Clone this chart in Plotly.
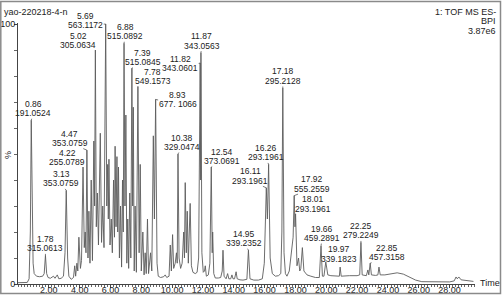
import plotly.graph_objects as go

# ---------------- data ----------------
TIME = [0.00, 0.60, 0.72, 0.80, 0.86, 0.92, 0.98, 1.05, 1.20, 1.40, 1.60, 1.70, 1.78, 1.86, 1.95,
        2.10, 2.30, 2.40, 2.55, 2.65, 2.80, 2.95, 3.05, 3.13, 3.22, 3.30, 3.45, 3.60, 3.68, 3.74,
        3.82, 3.88, 3.95, 4.05, 4.12, 4.22, 4.30, 4.36, 4.41, 4.47, 4.54, 4.60, 4.67, 4.75, 4.83,
        4.92, 4.97, 5.02, 5.08, 5.15, 5.22, 5.34, 5.42, 5.50, 5.58, 5.69, 5.76, 5.82, 5.86, 5.90,
        5.97, 6.05, 6.12, 6.20, 6.26, 6.30, 6.36, 6.42, 6.47, 6.52, 6.58, 6.65, 6.72, 6.78, 6.83,
        6.88, 6.94, 7.00, 7.06, 7.12, 7.18, 7.25, 7.32, 7.39, 7.44, 7.48, 7.54, 7.60, 7.68, 7.78,
        7.86, 7.93, 8.00, 8.10, 8.18, 8.25, 8.32, 8.40, 8.47, 8.60, 8.68, 8.78, 8.85, 8.93, 9.02,
        9.10, 9.25, 9.45, 9.55, 9.65, 9.80, 9.88, 9.95, 10.03, 10.10, 10.20, 10.28, 10.33, 10.38,
        10.45, 10.55, 10.65, 10.75, 10.80, 10.85, 10.92, 10.98, 11.05, 11.17, 11.25, 11.35, 11.50,
        11.62, 11.72, 11.82, 11.85, 11.87, 11.93, 12.02, 12.10, 12.15, 12.22, 12.35, 12.45, 12.54,
        12.60, 12.63, 12.70, 12.80, 13.00, 13.15, 13.25, 13.30, 13.37, 13.50, 13.60, 13.68, 13.80,
        13.88, 13.95, 14.05, 14.15, 14.22, 14.40, 14.60, 14.85, 14.95, 15.05, 15.30, 15.60, 15.85,
        15.98, 16.11, 16.18, 16.26, 16.36, 16.50, 16.70, 16.90, 17.05, 17.12, 17.18, 17.26, 17.35,
        17.45, 17.60, 17.75, 17.85, 17.92, 17.97, 18.01, 18.10, 18.20, 18.28, 18.35, 18.45, 18.55,
        18.75, 19.00, 19.30, 19.55, 19.66, 19.75, 19.85, 19.97, 20.10, 20.30, 20.60, 20.85, 20.90,
        20.97, 21.50, 22.00, 22.17, 22.25, 22.33, 22.60, 22.70, 22.76, 22.85, 22.93, 23.20, 23.35,
        23.42, 23.50, 23.80, 24.20, 24.60, 25.00, 25.40, 25.80, 26.20, 27.00, 28.00, 28.30, 28.42,
        28.50, 28.60, 28.75, 29.10, 29.55]
INTENSITY = [0.5, 0.6, 2.0, 20, 63, 25, 8, 4, 3, 2.8, 3.0, 4, 11, 4, 2.5,
             2.2, 3.0, 2.2, 3.5, 2.0, 2.2, 3.0, 12, 36, 10, 3, 1.8, 2.5, 7, 3,
             8, 5, 18, 6, 9, 45, 14, 20, 12, 51.5, 10, 28, 8, 40, 9,
             55, 30, 90, 22, 35, 15, 58, 16, 30, 14, 100, 30, 46, 25, 48,
             15, 25, 12, 40, 18, 53, 22, 49, 20, 45, 10, 30, 6.5, 40, 20,
             92.6, 30, 65, 8, 25, 6, 35, 10, 83, 30, 68, 5, 30, 4.5, 76,
             12, 46, 5, 20, 3.5, 12, 4, 25, 4, 12, 5, 57, 25, 71, 8,
             3, 2.5, 2.8, 3.5, 2.5, 3, 15, 5, 19, 6, 8, 12, 8, 50,
             10, 6, 8, 20, 10, 39, 12, 28, 8, 31, 7, 4.5, 4,
             4.5, 10, 85, 40, 89, 12, 4.5, 5, 7, 3, 3.5, 8, 45,
             12, 20, 4, 2.3, 2.3, 2.5, 5, 13, 3, 2, 4, 2, 2,
             3.5, 2, 2, 4.7, 2, 1.6, 1.5, 1.8, 13, 2, 1.5, 1.5, 2,
             8, 37, 25, 46, 10, 4, 3, 3.2, 4, 20, 75.4, 12, 4,
             3, 5, 12, 18, 34, 22, 27, 7, 10, 5, 6, 14, 5,
             3.5, 3, 2.5, 2.5, 14.6, 3, 3, 8.5, 3.5, 3.2, 3, 3, 6.5,
             3, 3.2, 3.2, 3.5, 16, 3.5, 3.2, 5.4, 3.5, 8, 3.5, 3.3, 3.5,
             6.5, 3.5, 3.5, 4.0, 4.3, 3.8, 2.8, 1.5, 0.9, 0.8, 0.8, 1.2, 2.7,
             2.0, 2.7, 1.6, 1.3, 1.0]

LABEL_RT = [0.86, 1.78, 3.13, 4.22, 4.47, 5.02, 5.69, 6.88, 7.39, 7.78, 8.93, 10.38,
            11.82, 11.87, 12.54, 14.95, 16.11, 16.26, 17.18, 17.92, 18.01, 19.66, 19.97,
            22.25, 22.85]
LABEL_MZ = ["191.0524", "315.0613", "353.0759", "255.0789", "353.0759", "305.0634",
            "563.1172", "515.0892", "515.0845", "549.1573", "677. 1066", "329.0474",
            "343.0601", "343.0563", "373.0691", "339.2352", "293.1961", "293.1961",
            "295.2128", "555.2559", "293.1961", "459.2891", "339.1823", "279.2249",
            "457.3158"]

X_TICKS = [2, 4, 6, 8, 10, 12, 14, 16, 18, 20, 22, 24, 26, 28]
X_TICK_TEXT = ["2.00", "4.00", "6.00", "8.00", "10.00", "12.00", "14.00", "16.00",
               "18.00", "20.00", "22.00", "24.00", "26.00", "28.00"]
Y_TICKS = [0, 100]
Y_TICK_TEXT = ["0", "100"]

TITLE = "yao-220218-4-n"
INFO_LINES = ["1: TOF MS ES-", "BPI", "3.87e6"]

# ---------------- style / layout ----------------
W, H = 503, 295
L, R, T, B = 18, 28, 23, 11
PW, PH = W - L - R, H - T - B
FONT = "Liberation Sans, Arial, sans-serif"
TXT = "#222222"
LBL = 8.5

# pixel offsets of each label (m/z line centre) from its peak apex
LABEL_OFFSETS = [(2, -7), (0, -7), (-5, -7), (-16, -5), (-17, -7), (-17, -5),
                 (-20, 1), (1, -7), (11, -6), (15, -5), (22, 5), (4, -7),
                 (-20, 5), (1, -7), (11, -6), (-4, -7), (-16, -7), (-3, -7),
                 (0, -7), (18, -7), (17, -5), (1, -8), (13, -3), (0, -7), (17, -6)]


def px_x(p):
    return (p - L) / PW


def px_y(p):
    return (H - B - p) / PH


def apex(t):
    i = min(range(len(TIME)), key=lambda k: abs(TIME[k] - t))
    return INTENSITY[i]


fig = go.Figure()
fig.add_trace(go.Scatter(x=TIME, y=INTENSITY, mode="lines",
                         line=dict(color="#5c5c5c", width=0.9),
                         hoverinfo="skip", showlegend=False))

for rt, mz, (ax, ay) in zip(LABEL_RT, LABEL_MZ, LABEL_OFFSETS):
    h = apex(rt)
    fig.add_annotation(x=rt, y=h, text=mz, showarrow=True, arrowhead=0,
                       arrowwidth=0.7, arrowcolor="#444444", ax=ax, ay=ay,
                       standoff=0, xanchor="center", yanchor="middle",
                       borderpad=0, font=dict(family=FONT, size=LBL, color=TXT))
    fig.add_annotation(x=rt, y=h, text=f"{rt:.2f}", showarrow=False,
                       xshift=ax, yshift=-ay + 9.5, xanchor="center", yanchor="middle",
                       borderpad=0, font=dict(family=FONT, size=LBL, color=TXT))

# header texts
fig.add_annotation(xref="paper", yref="paper", x=px_x(2), y=px_y(12), text=TITLE,
                   showarrow=False, xanchor="left", yanchor="middle",
                   font=dict(family=FONT, size=9, color=TXT))
for i, line in enumerate(INFO_LINES):
    fig.add_annotation(xref="paper", yref="paper", x=px_x(498), y=px_y(12 + 9.5 * i),
                       text=line, showarrow=False, xanchor="right", yanchor="middle",
                       font=dict(family=FONT, size=9, color=TXT))
fig.add_annotation(xref="paper", yref="paper", x=px_x(478), y=px_y(283), text="Time",
                   showarrow=False, xanchor="left", yanchor="middle",
                   font=dict(family=FONT, size=9, color=TXT))
fig.add_annotation(xref="paper", yref="paper", x=px_x(8), y=px_y(155), text="%",
                   showarrow=False, textangle=-90, xanchor="center", yanchor="middle",
                   font=dict(family=FONT, size=9, color=TXT))

# outer frame
fig.add_shape(type="rect", xref="paper", yref="paper",
              x0=px_x(0.8), x1=px_x(500.5), y0=px_y(293.5), y1=px_y(1.5),
              line=dict(color="#8a8a8a", width=1.5), fillcolor="rgba(0,0,0,0)")

fig.update_layout(
    width=W, height=H, margin=dict(l=L, r=R, t=T, b=B, autoexpand=False),
    paper_bgcolor="white", plot_bgcolor="white",
    font=dict(family=FONT, size=9, color=TXT),
    xaxis=dict(range=[0, 29.65], showgrid=False, zeroline=False, showline=True,
               linecolor="#444444", linewidth=1, ticks="outside", ticklen=3,
               tickcolor="#444444", tickvals=X_TICKS, ticktext=X_TICK_TEXT,
               tickfont=dict(family=FONT, size=9, color=TXT), automargin=False,
               ticklabelstandoff=-6,
               minor=dict(dtick=0.2, tick0=0, ticks="outside", ticklen=2,
                          tickcolor="#666666", showgrid=False)),
    yaxis=dict(range=[0, 100.4], showgrid=False, zeroline=False, showline=True,
               linecolor="#444444", linewidth=1, ticks="outside", ticklen=3,
               tickcolor="#444444", tickvals=Y_TICKS, ticktext=Y_TICK_TEXT,
               tickfont=dict(family=FONT, size=9, color=TXT), automargin=False,
               ticklabelstandoff=-3,
               minor=dict(dtick=10, tick0=0, ticks="outside", ticklen=3,
                          tickcolor="#666666", showgrid=False)),
)

fig.write_html("out.html", config={"displayModeBar": False},
               post_script="document.body.style.margin='0';document.body.style.padding='0';")
